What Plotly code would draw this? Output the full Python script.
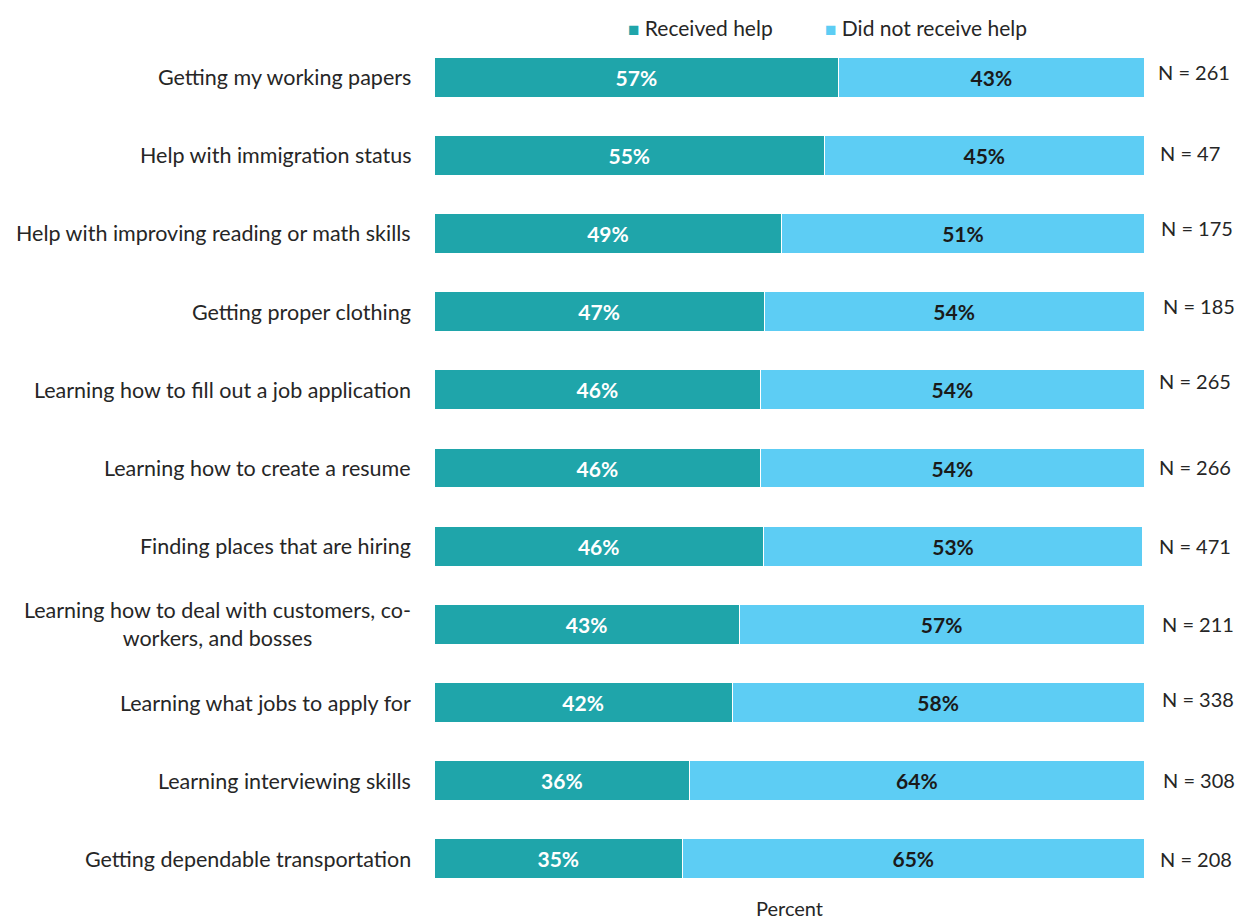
import plotly.graph_objects as go

# Help-seeking topics, listed top to bottom
topics = [
    "Getting my working papers",
    "Help with immigration status",
    "Help with improving reading or math skills",
    "Getting proper clothing",
    "Learning how to fill out a job application",
    "Learning how to create a resume",
    "Finding places that are hiring",
    "Learning how to deal with customers, co-<br>workers, and bosses",
    "Learning what jobs to apply for",
    "Learning interviewing skills",
    "Getting dependable transportation",
]
received = [57, 55, 49, 46.5, 46, 46, 46.4, 43, 42, 36, 35]
not_received = [43, 45, 51, 53.5, 54, 54, 53.4, 57, 58, 64, 65]
sample_sizes = [261, 47, 175, 185, 265, 266, 471, 211, 338, 308, 208]

# small hand offsets of the "N = ..." notes (pixels)
n_xshift = [12, 14, 15, 17, 13, 13, 13, 16, 16, 17, 14]
n_yshift = [5, 2, 5, 6, 9, 1, 0, 0, 4, 1, 0]

TEAL = "#1FA5AA"
SKY = "#5DCDF4"
INK = "#262626"
FONT = "Lato"

fig = go.Figure()
fig.add_trace(go.Bar(
    y=topics, x=received, orientation="h", name="Received help",
    marker=dict(color=TEAL, line=dict(color="white", width=1)),
    texttemplate="%{x:.0f}%", textposition="inside", insidetextanchor="middle",
    textfont=dict(family=FONT, size=21, color="white", weight="bold"),
    hoverinfo="skip", showlegend=False,
))
fig.add_trace(go.Bar(
    y=topics, x=not_received, orientation="h", name="Did not receive help",
    marker=dict(color=SKY, line=dict(color="white", width=1)),
    texttemplate="%{x:.0f}%", textposition="inside", insidetextanchor="middle",
    textfont=dict(family=FONT, size=21, color="#1a1a1a", weight="bold"),
    hoverinfo="skip", showlegend=False,
))

annotations = []
for t, n, dx, dy in zip(topics, sample_sizes, n_xshift, n_yshift):
    # category label on the left, lines centred within the block
    annotations.append(dict(
        x=0, xref="paper", y=t, yref="y", text=t, showarrow=False,
        xanchor="right", yanchor="middle", align="center", xshift=-21,
        font=dict(family=FONT, size=21.5, color=INK),
    ))
    # sample size on the right
    annotations.append(dict(
        x=1, xref="paper", y=t, yref="y", text=f"N = {n}", showarrow=False,
        xanchor="left", yanchor="middle", xshift=dx, yshift=dy,
        font=dict(family=FONT, size=20, color=INK),
    ))

# legend drawn as coloured squares followed by series names
legend_items = [("Received help", TEAL, 0.2705), ("Did not receive help", SKY, 0.548)]
for name, color, xpos in legend_items:
    annotations.append(dict(
        x=xpos, xref="paper", y=1, yref="paper", yshift=11,
        text=f'<span style="color:{color};font-size:19px">■</span> {name}',
        showarrow=False, xanchor="left", yanchor="middle",
        font=dict(family=FONT, size=21, color=INK),
    ))

annotations.append(dict(
    x=0.5, xref="paper", y=0, yref="paper", text="Percent", showarrow=False,
    xanchor="center", yanchor="middle", yshift=-10,
    font=dict(family=FONT, size=20, color=INK),
))

fig.update_layout(
    barmode="stack",
    bargap=0.49,
    width=1235, height=920,
    margin=dict(l=434, r=91, t=38, b=22),
    plot_bgcolor="white", paper_bgcolor="white",
    font=dict(family=FONT, size=21, color=INK),
    showlegend=False,
    xaxis=dict(range=[0, 100], showticklabels=False, showgrid=False,
               zeroline=False, showline=False, ticks=""),
    yaxis=dict(autorange="reversed", showticklabels=False, showgrid=False,
               zeroline=False, showline=False, ticks=""),
    annotations=annotations,
)

fig.write_html("out.html")
